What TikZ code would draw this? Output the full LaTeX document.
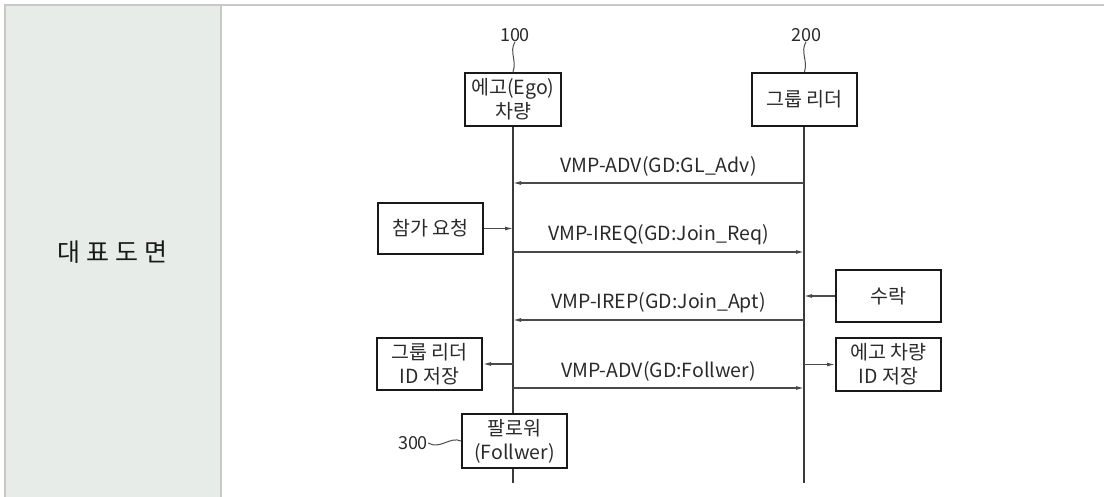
\documentclass[tikz,border=0pt]{standalone}
\usepackage{fontspec}
\setmainfont{Noto Sans CJK KR}
\usetikzlibrary{arrows.meta}
\definecolor{gridgray}{HTML}{C8C8C8}
\definecolor{headfill}{HTML}{E8ECE9}
\definecolor{lifegray}{HTML}{3A3A3A}
\definecolor{msggray}{HTML}{4A4A4A}
\definecolor{inkgray}{HTML}{2A2A2A}
\tikzset{
  boxnode/.style={draw=black!90, line width=2pt, inner sep=0pt, align=center,
    font=\fontsize{19.5}{24}\selectfont, text=inkgray},
  lifeline/.style={draw=lifegray, line width=2pt},
  msgline/.style={draw=msggray, line width=1.2pt, -{Latex[length=8pt,width=4pt]}},
  msglabel/.style={font=\fontsize{19.5}{22}\selectfont, text=inkgray, inner sep=0pt},
  reflabel/.style={font=\fontsize{18}{20}\selectfont, text=inkgray, inner sep=0pt},
  refcurve/.style={draw=msggray, line width=1pt},
}
\begin{document}
\begin{tikzpicture}[x=1pt,y=-1pt]
\useasboundingbox (0,0) rectangle (1104,497);
% table frame
\fill[headfill] (5,5) rectangle (220.5,497);
\draw[gridgray, line width=2pt] (5,497) -- (5,5) -- (1104,5);
\draw[gridgray, line width=2pt] (220.5,5) -- (220.5,497);
\node[text=black!90] (head) at (112,252) {\fontsize{25}{28}\selectfont 대\hspace{6pt}표\hspace{6pt}도\hspace{6pt}면};

% participants
\node[boxnode, minimum width=96pt, minimum height=53pt] (ego) at (513,99.5) {에고(Ego)\\차량};
\node[boxnode, minimum width=105pt, minimum height=53pt] (leader) at (804.5,99.5) {그룹 리더};
\node[reflabel] (n100) at (515,35) {100};
\node[reflabel] (n200) at (806,35) {200};
\draw[refcurve] (n100.south) .. controls (509,52) and (517,60) .. (ego.north);
\draw[refcurve] (n200.south) .. controls (800,52) and (808,60) .. (leader.north);

% side boxes
\node[boxnode, minimum width=105pt, minimum height=51pt] (join) at (430.5,228.5) {참가 요청};
\node[boxnode, minimum width=105pt, minimum height=52pt] (accept) at (888.5,296) {수락};
\node[boxnode, minimum width=105pt, minimum height=52pt] (glstore) at (429.5,364) {그룹 리더\\ID 저장};
\node[boxnode, minimum width=105pt, minimum height=53pt] (egostore) at (888.5,364.5) {에고 차량\\ID 저장};
\node[boxnode, minimum width=105pt, minimum height=54pt] (follower) at (514.5,441) {팔로워\\(Follwer)};
\node[reflabel] (n300) at (413,443) {300};
\draw[refcurve] (n300.east) .. controls (440,450) and (450,436) .. (follower.west);

% lifeline coordinates
\coordinate (eA) at (513,183);
\coordinate (lA) at (804,183);
\coordinate (eJ) at (513,228.5);
\coordinate (eB) at (513,252);
\coordinate (lB) at (804,252);
\coordinate (lK) at (804,296);
\coordinate (eC) at (513,320);
\coordinate (lC) at (804,320);
\coordinate (eS) at (513,364);
\coordinate (lS) at (804,364.5);
\coordinate (eD) at (513,388);
\coordinate (lD) at (804,388);
\coordinate (eEnd) at (513,483);
\coordinate (lEnd) at (804,483);

% lifelines
\draw[lifeline] (ego.south) -- (ego.south |- follower.north);
\draw[lifeline] (ego.south |- follower.south) -- (eEnd);
\draw[lifeline] (leader.south -| lEnd) -- (lEnd);

% messages
\draw[msgline] (lA) -- node[msglabel, above=6pt] {VMP-ADV(GD:GL\_Adv)} (eA);
\draw[msgline] (eB) -- node[msglabel, above=6pt] {VMP-IREQ(GD:Join\_Req)} (lB);
\draw[msgline] (lC) -- node[msglabel, above=6pt] {VMP-IREP(GD:Join\_Apt)} (eC);
\draw[msgline] (eD) -- node[msglabel, above=6pt] {VMP-ADV(GD:Follwer)} (lD);

% side arrows
\draw[msgline] (join.east) -- (eJ);
\draw[msgline] (accept.west) -- (lK);
\draw[msgline] (eS) -- (glstore.east);
\draw[msgline] (lS) -- (egostore.west);
\end{tikzpicture}
\end{document}
